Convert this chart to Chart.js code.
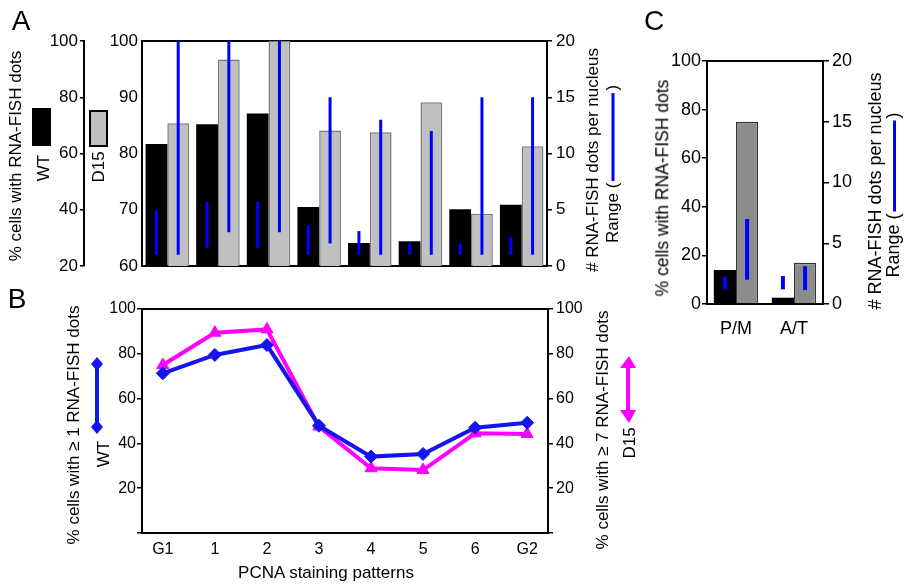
<!DOCTYPE html>
<html lang="en">
<head>
<meta charset="UTF-8" />
<title>RNA-FISH dots across PCNA staining patterns</title>
<script src="https://cdn.jsdelivr.net/npm/chart.js"></script>
<style>
  body { margin: 0; background: #fff; color: #000; font-family: "Liberation Sans", Arial, sans-serif; }
  #fig { position: relative; width: 904px; height: 586px; overflow: hidden; }
  canvas { position: absolute; }
  .t { position: absolute; white-space: nowrap; font-size: 17px; line-height: 1; transform: translate(-50%, -50%) rotate(-90deg); }
  .h { position: absolute; white-space: nowrap; font-size: 17px; line-height: 1; transform: translate(-50%, -50%); }
  .panel { position: absolute; font-size: 28px; line-height: 1; transform: translate(-50%, -50%); }
  .rl { display: inline-block; height: 3px; background: #0000ff; vertical-align: middle; margin: 0 2px; }
  .sw { position: absolute; box-sizing: border-box; }
</style>
</head>
<body>
<div id="fig">
  <canvas id="chartA" width="620" height="290" style="left:0;top:0"></canvas>
  <canvas id="chartB" width="660" height="296" style="left:0;top:290px"></canvas>
  <canvas id="chartC" width="284" height="310" style="left:620px;top:40px"></canvas>

  <!-- panel letters -->
  <div class="panel" style="left:21px;top:21px">A</div>
  <div class="panel" style="left:17px;top:299px">B</div>
  <div class="panel" style="left:654px;top:21px">C</div>

  <!-- panel A titles and legend -->
  <div class="t" style="left:15px;top:156px">% cells with RNA-FISH dots</div>
  <div class="sw" style="left:32px;top:108px;width:19px;height:38px;background:#000"></div>
  <div class="t" style="left:43px;top:168px">WT</div>
  <div class="sw" style="left:89px;top:110px;width:19px;height:37px;background:#c0c0c0;border:2px solid #000"></div>
  <div class="t" style="left:98px;top:167px">D15</div>
  <div class="t" style="left:592px;top:160px"># RNA-FISH dots per nucleus</div>
  <div class="t" style="left:612px;top:164px">Range (<span class="rl" style="width:88px"></span>)</div>

  <!-- panel B titles and legend -->
  <div class="t" style="left:73px;top:425px">% cells with &ge; 1 RNA-FISH dots</div>
  <svg style="position:absolute;left:87px;top:356px" width="20" height="80">
    <line x1="10" y1="8" x2="10" y2="71" stroke="#1414ee" stroke-width="4"/>
    <polygon points="10,1 16,8 10,15 4,8" fill="#1414ee"/>
    <polygon points="10,64 16,71 10,78 4,71" fill="#1414ee"/>
  </svg>
  <div class="t" style="left:103px;top:454px">WT</div>
  <div class="t" style="left:602px;top:430px">% cells with &ge; 7 RNA-FISH dots</div>
  <svg style="position:absolute;left:617px;top:354px" width="22" height="72">
    <line x1="11" y1="8" x2="11" y2="62" stroke="#ff00ff" stroke-width="4"/>
    <polygon points="12,2 19,14 3,14" fill="#ff00ff"/>
    <polygon points="3,56 19,56 12,69" fill="#ff00ff"/>
  </svg>
  <div class="t" style="left:629px;top:443px">D15</div>
  <div class="h" style="left:326px;top:572px">PCNA staining patterns</div>

  <!-- panel C titles -->
  <div class="t" style="left:663px;top:188px;font-size:17.5px">% cells with RNA-FISH dots</div>
  <div class="t" style="left:875px;top:191px;font-size:18px"># RNA-FISH dots per nucleus</div>
  <div class="t" style="left:893px;top:195px;font-size:18px">Range (<span class="rl" style="width:91px"></span>)</div>
</div>

<script>
  // PCNA staining patterns (x categories of A and B)
  const stages = ['G1', '1', '2', '3', '4', '5', '6', 'G2'];

  // Panel A: % cells with RNA-FISH dots (inner left axis, 60-100)
  const wtPctA  = [81.7, 85.2, 87.1, 70.5, 64.1, 64.4, 70.1, 70.9];
  const d15PctA = [85.4, 96.7, 100, 84.1, 83.8, 89.1, 69.3, 81.3];
  // Panel A: range of RNA-FISH dots per nucleus [min, max] (right axis, 0-20)
  const wtRangeA  = [[1, 5], [1.6, 5.7], [1.6, 5.7], [1, 3.6], [1, 3.1], [1, 2], [1, 2], [1, 2.6]];
  const d15RangeA = [[1, 20], [3, 20], [3, 20], [2, 15], [1, 13], [1, 12], [1, 15], [1, 15]];

  // Panel B: % cells with >=1 dot (WT) and >=7 dots (D15)
  const wtAtLeast1  = [71.3, 79.5, 83.9, 47.9, 34.1, 35.3, 47.0, 49.2];
  const d15AtLeast7 = [75.0, 89.4, 90.9, 47.5, 28.9, 28.1, 44.5, 44.2];

  // Panel C: mitotic phases
  const phases    = ['P/M', 'A/T'];
  const wtPctC    = [14.0, 2.6];
  const d15PctC   = [75.0, 17.0];
  const wtRangeC  = [[1.2, 2.25], [1.2, 2.3]];
  const d15RangeC = [[2, 7], [1.15, 3.1]];

  Chart.defaults.font.family = '"Liberation Sans", Arial, sans-serif';
  Chart.defaults.color = '#000';
  Chart.defaults.animation = false;
  Chart.defaults.plugins.legend.display = false;
  Chart.defaults.plugins.tooltip.enabled = false;

  const BLUE = '#0000ff';
  const edge = { display: true, color: '#000', width: 2 };
  const fixW = w => s => { s.width = w; };
  const fixH = h => s => { s.height = h; };

  function yAxis(pos, min, max, step, width, extra) {
    return Object.assign({
      position: pos, min: min, max: max, stacked: false,
      ticks: { stepSize: step, font: { size: 17 }, color: '#000', padding: 2 },
      grid: { drawOnChartArea: false, tickLength: 5, color: '#000', lineWidth: 1.5 },
      border: edge,
      afterFit: fixW(width)
    }, extra || {});
  }

  // axis that only draws the frame line
  function frameX(pos, type) {
    return {
      type: type || 'category', axis: 'x', position: pos,
      min: type === 'linear' ? 0 : undefined, max: type === 'linear' ? 1 : undefined,
      ticks: { display: false }, grid: { display: false, drawTicks: false },
      border: edge, afterFit: fixH(0)
    };
  }

  // ---------- Panel A ----------
  const catA = { categoryPercentage: 0.86, barPercentage: 1 };
  new Chart(document.getElementById('chartA'), {
    type: 'bar',
    data: {
      labels: stages,
      datasets: [
        { label: 'WT range', data: wtRangeA, yAxisID: 'y2', stack: 'wt', backgroundColor: BLUE, maxBarThickness: 3, ...catA },
        { label: 'D15 range', data: d15RangeA, yAxisID: 'y2', stack: 'd15', backgroundColor: BLUE, maxBarThickness: 3, ...catA },
        { label: 'WT', data: wtPctA, yAxisID: 'y', stack: 'wt', backgroundColor: '#000', ...catA },
        { label: 'D15', data: d15PctA, yAxisID: 'y', stack: 'd15', backgroundColor: '#c0c0c0',
          borderColor: '#7a7a7a', borderWidth: 1.5, ...catA }
      ]
    },
    options: {
      responsive: false,
      layout: { padding: { top: 41, bottom: 24, left: 0, right: 33 } },
      scales: {
        x: frameX('bottom'),
        xTop: frameX('top'),
        yOuter: yAxis('left', 20, 100, 20, 84, { weight: 1,
          grid: { drawOnChartArea: false, tickLength: 4, color: '#000', lineWidth: 1.5 } }),
        y: yAxis('left', 60, 100, 10, 58, { weight: 0,
          ticks: { stepSize: 10, font: { size: 17 }, color: '#000', padding: 4 },
          grid: { display: false, drawTicks: false } }),
        y2: yAxis('right', 0, 20, 5, 40, {
          ticks: { stepSize: 5, font: { size: 17 }, color: '#000', padding: 4 } })
      }
    }
  });

  // ---------- Panel B ----------
  new Chart(document.getElementById('chartB'), {
    type: 'line',
    data: {
      datasets: [
        { label: 'WT', data: wtAtLeast1.map((v, i) => ({ x: i, y: v })), yAxisID: 'y',
          borderColor: '#1414ee', backgroundColor: '#1414ee', borderWidth: 4,
          pointStyle: 'rectRot', pointRadius: 6.5, pointBorderWidth: 1 },
        { label: 'D15', data: d15AtLeast7.map((v, i) => ({ x: i, y: v })), yAxisID: 'y2',
          borderColor: '#ff00ff', backgroundColor: '#ff00ff', borderWidth: 4,
          pointStyle: 'triangle', pointRadius: 7, pointBorderWidth: 1 }
      ]
    },
    options: {
      responsive: false,
      layout: { padding: { top: 19, bottom: 13, left: 0, right: 67 } },
      scales: {
        x: {
          type: 'linear', position: 'bottom', min: -0.4, max: 7.4,
          afterBuildTicks: s => { s.ticks = stages.map((_, i) => ({ value: i })); },
          ticks: { callback: v => stages[v], font: { size: 16 }, color: '#000', padding: 7, maxRotation: 0, autoSkip: false },
          grid: { display: false, drawTicks: false },
          border: edge, afterFit: fixH(40)
        },
        xTop: frameX('top', 'linear'),
        y: yAxis('left', 0, 100, 20, 142, {
          ticks: { stepSize: 20, font: { size: 16 }, color: '#000', padding: 1, callback: v => v === 0 ? '' : v } }),
        y2: yAxis('right', 0, 100, 20, 45, {
          ticks: { stepSize: 20, font: { size: 16 }, color: '#000', padding: 3, callback: v => v === 0 ? '' : v } })
      }
    }
  });

  // ---------- Panel C ----------
  const catC = { categoryPercentage: 0.765, barPercentage: 1 };
  new Chart(document.getElementById('chartC'), {
    type: 'bar',
    data: {
      labels: phases,
      datasets: [
        { label: 'WT range', data: wtRangeC, yAxisID: 'y2', stack: 'wt', backgroundColor: BLUE, maxBarThickness: 4, ...catC },
        { label: 'D15 range', data: d15RangeC, yAxisID: 'y2', stack: 'd15', backgroundColor: BLUE, maxBarThickness: 4, ...catC },
        { label: 'WT', data: wtPctC, yAxisID: 'y', stack: 'wt', backgroundColor: '#000', ...catC },
        { label: 'D15', data: d15PctC, yAxisID: 'y', stack: 'd15', backgroundColor: '#8c8c8c',
          borderColor: '#333', borderWidth: 1.5, ...catC }
      ]
    },
    options: {
      responsive: false,
      layout: { padding: { top: 21, bottom: 11, left: 0, right: 41 } },
      scales: {
        x: {
          type: 'category', position: 'bottom',
          ticks: { font: { size: 18 }, color: '#000', padding: 14, maxRotation: 0 },
          grid: { display: false, drawTicks: false },
          border: edge, afterFit: fixH(35)
        },
        xTop: frameX('top'),
        y: yAxis('left', 0, 100, 20, 87, {
          ticks: { stepSize: 20, font: { size: 18 }, color: '#000', padding: 1 } }),
        y2: yAxis('right', 0, 20, 5, 40, {
          grid: { drawOnChartArea: false, tickLength: 6, color: '#000', lineWidth: 1.5 },
          ticks: { stepSize: 5, font: { size: 18 }, color: '#000', padding: 3 } })
      }
    }
  });
</script>
</body>
</html>
